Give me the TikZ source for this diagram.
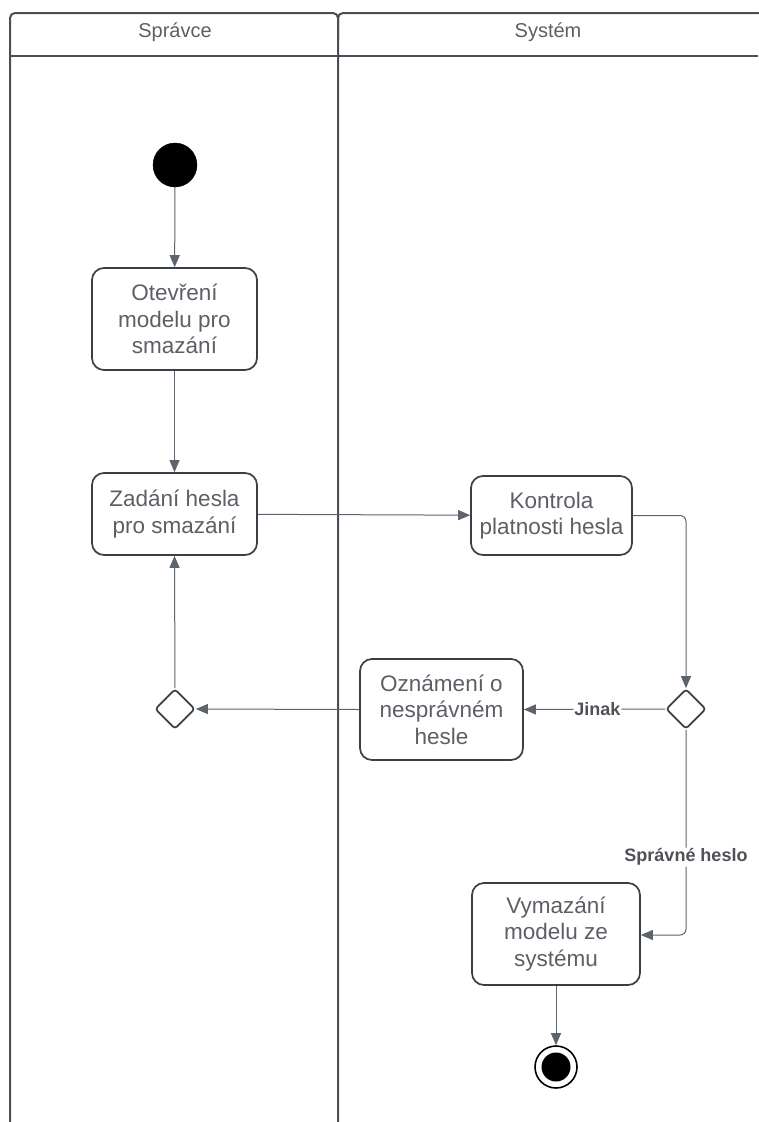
\documentclass[tikz,border=0pt]{standalone}
\usepackage{fontspec}
\setmainfont{Liberation Sans}
\usetikzlibrary{arrows.meta,shapes.geometric}
\definecolor{edgegray}{HTML}{3A3F47}
\definecolor{linkgray}{HTML}{5E646C}
\definecolor{textgray}{HTML}{5C6066}
\definecolor{lanegray}{HTML}{4A4F57}
\tikzset{
  action/.style={draw=edgegray, line width=1.7pt, rounded corners=12pt, fill=white,
    text=textgray, align=center, font=\fontsize{22.5}{26.5}\selectfont, inner sep=0pt},
  decision/.style={draw=edgegray, line width=1.7pt, diamond, rounded corners=3pt,
    fill=white, minimum width=40pt, minimum height=40pt, inner sep=0pt},
  flow/.style={draw=linkgray, line width=1pt, -{Triangle[length=12pt,width=10pt]}, rounded corners=6pt},
  guard/.style={fill=white, text=textgray!85!black, font=\bfseries\fontsize{18}{20}\selectfont, inner sep=1pt},
  lanetitle/.style={text=textgray, font=\fontsize{20}{24}\selectfont}
}
\begin{document}
\begin{tikzpicture}[x=1pt,y=-1pt]
\useasboundingbox (0,0) rectangle (758,1122);
\fill[white] (0,0) rectangle (758,1122);

% swimlanes
\draw[lanegray, line width=2pt, rounded corners=5pt] (10,1122) -- (10,13) -- (338,13) -- (338,1122);
\draw[lanegray, line width=2pt, rounded corners=5pt] (338,40) -- (338,13) -- (770,13);
\draw[lanegray, line width=2pt] (10,56) -- (758,56);
\node[lanetitle] (laneA) at (175,32) {Správce};
\node[lanetitle] (laneB) at (548,32) {Systém};

% activity nodes
\node[circle, fill=black, draw=black, minimum size=44pt, inner sep=0pt] (start) at (175,165) {};
\node[action, minimum width=165pt, minimum height=102pt] (open) at (174.5,319) {Otevření\\modelu pro\\smazání};
\node[action, minimum width=165pt, minimum height=82pt] (pwd) at (174.5,514) {Zadání hesla\\pro smazání};
\node[action, minimum width=161pt, minimum height=79pt] (check) at (551.5,515.5) {Kontrola\\platnosti hesla};
\node[decision] (dR) at (686,709) {};
\node[decision] (dL) at (175,709) {};
\node[action, minimum width=163pt, minimum height=101pt] (notice) at (441.5,709.5) {Oznámení o\\nesprávném\\hesle};
\node[action, minimum width=168pt, minimum height=102pt] (erase) at (556,934) {Vymazání\\modelu ze\\systému};
\node[circle, draw=black, line width=1.6pt, fill=white, minimum size=42pt, inner sep=0pt] (finish) at (556,1067) {};
\node[circle, fill=black, minimum size=29pt, inner sep=0pt] (finishdot) at (finish.center) {};

% control flow
\draw[flow] (start) -- (open);
\draw[flow] (open) -- (pwd);
\draw[flow] (pwd) -- (check);
\draw[flow] (check.east) -| (dR.north);
\draw[flow] (dR.west) -- node[guard, pos=0.48] (lblOther) {Jinak} (notice.east);
\draw[flow] (notice.west) -- (dL.east);
\draw[flow] (dL.north) -- (pwd.south);
\coordinate (bend) at (686,935);
\draw[flow] (dR.south) -- node[guard, pos=0.62] (lblOk) {Správné heslo} (bend) -- (erase.east |- bend);
\draw[flow] (erase) -- (finish);
\end{tikzpicture}
\end{document}
